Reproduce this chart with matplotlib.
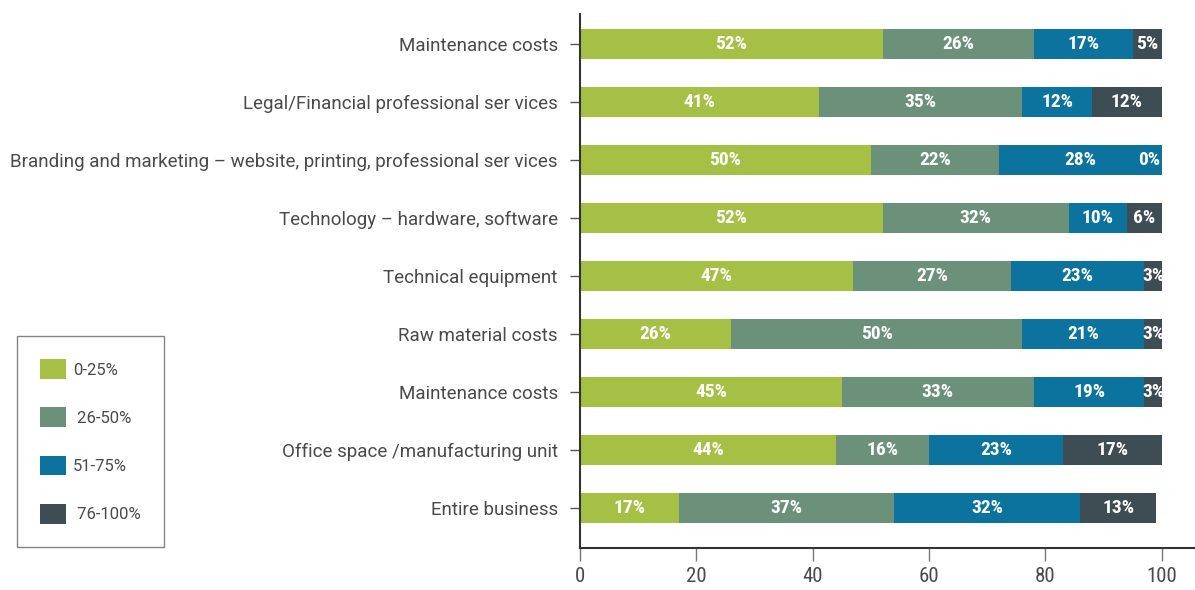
"""Stacked horizontal bar chart of cost share bands by expense category."""

import matplotlib

matplotlib.use("Agg")
import matplotlib.pyplot as plt
import numpy as np
from matplotlib.patches import Patch

plt.rcParams["font.family"] = ["Roboto", "DejaVu Sans"]
CONDENSED = ["Roboto Condensed", "Liberation Sans Narrow", "Roboto", "DejaVu Sans"]

categories = [
    "Maintenance costs",
    "Legal/Financial professional ser vices",
    "Branding and marketing \u2013 website, printing, professional ser vices",
    "Technology \u2013 hardware, software",
    "Technical equipment",
    "Raw material costs",
    "Maintenance costs",
    "Office space /manufacturing unit",
    "Entire business",
]
band_labels = ["0-25%", " 26-50%", "51-75%", " 76-100%"]
band_0_25 = [52, 41, 50, 52, 47, 26, 45, 44, 17]
band_26_50 = [26, 35, 22, 32, 27, 50, 33, 16, 37]
band_51_75 = [17, 12, 28, 10, 23, 21, 19, 23, 32]
band_76_100 = [5, 12, 0, 6, 3, 3, 3, 17, 13]
x_ticks = [0, 20, 40, 60, 80, 100]

colors = ["#a5c045", "#6c917b", "#0c729e", "#3e4c54"]
text_color = "#4a4a4a"

fig = plt.figure(figsize=(11.95, 5.9), dpi=100)
ax = fig.add_axes([0.4854, 0.0712, 0.5146, 0.9051])

y = np.arange(len(categories))
left = np.zeros(len(categories))
for values, color in zip([band_0_25, band_26_50, band_51_75, band_76_100], colors):
    values = np.array(values, dtype=float)
    ax.barh(y, values, left=left, height=0.52, color=color, edgecolor="none")
    for yi, (l, v) in enumerate(zip(left, values)):
        if v == 0:
            # empty segment: keep its label inside the bar end
            x, ha = l - 0.3, "right"
        else:
            x, ha = l + v / 2, "center"
        ax.text(x, yi, f"{int(v)}%", ha=ha, va="center", color="white",
                fontsize=14, fontweight="bold", family=CONDENSED)
    left += values

ax.set_ylim(len(categories) - 1 + 0.69, -0.52)
ax.set_xlim(0, 105.7)
ax.set_yticks(y)
ax.set_yticklabels(categories, fontsize=13.5, color=text_color)
ax.set_xticks(x_ticks)
ax.set_xticklabels([str(t) for t in x_ticks], fontsize=15, color=text_color,
                   family=CONDENSED)

for side in ["top", "right"]:
    ax.spines[side].set_visible(False)
for side in ["left", "bottom"]:
    ax.spines[side].set_color("#333333")
    ax.spines[side].set_linewidth(1.5)
ax.tick_params(axis="y", length=7, width=1, color="#555555", pad=9)
ax.tick_params(axis="x", length=9, width=1, color="#777777", pad=5)

handles = [Patch(facecolor=c, edgecolor="none") for c in colors]
leg = fig.legend(
    handles, band_labels,
    loc="upper left", bbox_to_anchor=(17 / 1195, 1 - 336 / 590),
    fontsize=12, labelcolor=text_color, frameon=True, fancybox=False,
    handlelength=1.55, handleheight=1.45, handletextpad=0.4,
    labelspacing=1.7, borderpad=1.4, borderaxespad=0,
)
leg.get_frame().set_edgecolor("#666666")
leg.get_frame().set_linewidth(1)

fig.savefig("out.png", dpi=100)
